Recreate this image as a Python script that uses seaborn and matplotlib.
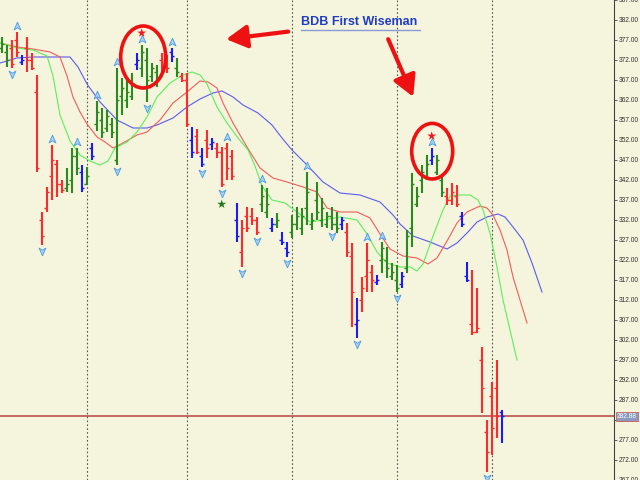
import numpy as np
import matplotlib
matplotlib.use('Agg')
import matplotlib.pyplot as plt
import matplotlib.transforms as mtransforms
from matplotlib.path import Path
from matplotlib.patches import Ellipse
import seaborn as sns

# ---- price bars (one per period) ----
highs = [377.75, 375.75, 377.0, 379.0, 373.25, 377.75, 373.75, 368.25, 334.0, 340.25,
         350.75, 347.0, 342.0, 345.0, 350.0, 350.0, 345.75, 345.25, 351.25, 361.75,
         360.0, 359.5, 357.5, 370.0, 367.5, 367.0, 368.75, 373.75, 375.75, 375.0,
         371.25, 370.75, 373.75, 373.25, 375.0, 372.5, 368.75, 368.75, 355.25, 354.75,
         350.0, 354.5, 352.5, 351.25, 350.25, 351.25, 349.5, 336.25, 332.0, 335.25,
         335.0, 332.75, 340.75, 340.0, 332.5, 333.75, 329.0, 326.5, 333.25, 335.25,
         335.0, 344.0, 333.75, 341.5, 337.5, 334.0, 335.25, 334.0, 332.75, 331.25,
         326.25, 312.5, 317.75, 326.25, 320.75, 318.25, 326.5, 325.25, 321.25, 320.75,
         319.0, 329.5, 343.75, 340.25, 345.75, 348.25, 350.0, 348.25, 343.25, 340.0,
         341.25, 340.75, 334.0, 321.5, 319.5, 315.0, 300.25, 282.0, 291.5, 297.0,
         284.5]
lows = [373.75, 370.25, 370.0, 372.75, 370.75, 369.0, 369.5, 344.0, 325.75, 334.0,
        337.0, 337.75, 338.75, 339.0, 338.75, 343.25, 339.0, 340.75, 347.0, 354.25,
        352.5, 354.0, 352.5, 345.75, 358.25, 360.0, 362.0, 369.5, 367.75, 361.5,
        366.5, 365.25, 369.0, 368.75, 371.5, 367.75, 366.5, 355.25, 347.5, 348.5,
        345.25, 347.5, 349.5, 347.5, 340.25, 342.0, 342.0, 326.5, 320.25, 329.0,
        330.75, 328.25, 334.0, 332.5, 329.0, 330.0, 325.75, 322.75, 327.5, 329.5,
        328.25, 330.75, 329.5, 332.0, 330.25, 330.0, 329.5, 328.75, 329.5, 322.75,
        305.25, 302.5, 309.0, 314.0, 314.0, 315.75, 318.75, 317.5, 317.0, 314.0,
        315.0, 318.75, 325.25, 335.25, 338.75, 342.0, 345.75, 343.25, 337.75, 335.75,
        335.75, 335.25, 330.25, 316.5, 303.25, 303.75, 283.75, 269.0, 273.25, 277.5,
        276.25]
opens = [375, 374, 375, 377, 371.5, 375, 372, 364, 332, 335,
         343, 346, 341, 340, 342, 348, 344, 341, 350, 356,
         357, 355, 356, 347, 363, 362, 363, 371, 370, 372,
         368, 369, 372, 372, 374, 370, 368, 367, 352, 353,
         348, 352, 351, 350, 349, 350, 348, 332, 324, 333,
         333, 332, 336, 334, 330, 331, 327, 325, 329, 331,
         330, 335, 331, 337, 332, 331, 333, 331, 331, 329,
         323, 306, 312, 318, 319, 316.5, 322, 322, 318, 317,
         316, 320, 330, 336, 342, 343, 347, 344, 342, 338,
         337, 338, 333, 318, 306, 304, 297, 279, 288, 290,
         284]
closes = [376, 372, 371, 374, 372, 372, 370, 345, 328, 339,
          347, 341, 339.5, 341, 348, 345, 340, 343, 348, 359,
          354, 358, 354, 362, 365, 364, 366, 372, 374, 367,
          370, 367, 370, 370, 373, 369, 367, 356, 349, 349,
          346, 350, 351.5, 349, 341, 345, 343, 328, 330, 330,
          332, 329, 338, 336, 331, 332, 326.5, 324, 331, 333,
          333, 339, 332, 334, 335, 333, 331, 330, 332, 324,
          314, 307, 315, 322, 317, 317, 325, 320, 319, 315,
          318, 328, 341, 338, 344, 346, 348, 347, 339, 337,
          339, 336, 331, 317, 304, 305, 290, 274, 280, 283,
          282.88]
bar_kind = list("ggrrbrrrrr" "rrrgggbgbg" "gggggggbgg" "ggrrbgrrbr" "brbrrrrbrr"
                "rrggbgbbgg" "ggggggggbr" "rbrrrbgggg" "bgggggbggr" "rrbbrrrrrr" "b")

# ---- fractals and signal stars (bar numbers) ----
fractal_up = [3, 10, 15, 19, 23, 28, 34, 45, 52, 61, 73, 76, 86]
fractal_down = [2, 8, 23, 29, 40, 44, 48, 51, 57, 66, 71, 79, 97]
red_star_bars = [28, 86]
green_star_bars = [44]

# ---- alligator lines (bar position, price) ----
jaw_x = [-0.34, 3.06, 6.26, 13.66, 15.26, 17.06, 19.66, 23.06, 26.26, 29.06, 31.06, 34.26,
         37.06, 39.66, 42.26, 44.06, 46.26, 48.26, 51.26, 54.06, 56.06, 58.06, 61.06, 64.26,
         67.66, 71.66, 75.66, 78.26, 79.66, 82.26, 85.66, 89.06, 91.06, 93.26, 95.06, 97.06,
         99.26, 100.66, 102.26, 104.26, 106.06, 108.06]
jaw_y = [371.25, 372.5, 372.75, 372.75, 370.25, 366.0, 361.5, 357.0, 355.0, 355.0, 355.75, 357.5,
         360.25, 362.25, 363.75, 364.25, 362.75, 360.75, 358.75, 355.75, 352.5, 349.5, 345.75, 341.5,
         338.75, 338.25, 336.5, 333.25, 331.0, 328.0, 326.5, 324.75, 326.25, 329.0, 331.5, 332.75,
         333.5, 332.75, 330.25, 327.0, 321.25, 314.0]
teeth_x = [-0.34, 3.06, 6.26, 9.66, 11.66, 13.06, 14.26, 15.66, 17.06, 19.06, 20.66, 22.26,
           24.26, 27.06, 29.06, 31.66, 34.26, 37.06, 39.66, 41.26, 43.06, 44.26, 46.26, 49.06,
           51.66, 54.26, 57.06, 60.26, 63.06, 65.06, 67.66, 71.06, 73.66, 75.66, 77.66, 80.26,
           83.06, 85.26, 87.06, 89.06, 91.06, 93.06, 95.66, 97.06, 98.26, 99.66, 101.06, 102.26,
           103.66, 105.06]
teeth_y = [376.25, 375.25, 374.75, 374.0, 372.75, 368.0, 362.75, 359.0, 356.0, 352.75, 351.5, 350.0,
           351.25, 353.25, 354.0, 357.0, 361.25, 364.0, 366.75, 366.5, 365.0, 361.25, 356.25, 350.25,
           345.0, 342.5, 341.5, 340.25, 339.0, 335.0, 334.0, 334.0, 332.5, 328.5, 324.75, 323.0,
           322.5, 321.0, 322.5, 326.75, 331.25, 334.0, 335.5, 335.0, 333.25, 329.5, 324.5, 317.75,
           312.0, 306.25]
lips_x = [-0.34, 3.06, 6.26, 9.06, 10.26, 11.66, 13.66, 15.66, 17.66, 19.66, 21.26, 22.66,
          25.06, 27.06, 29.06, 31.06, 33.66, 36.26, 38.06, 39.66, 41.06, 43.06, 45.06, 47.26,
          49.26, 50.66, 52.06, 54.06, 56.66, 59.06, 61.66, 64.26, 67.66, 71.06, 73.06, 75.06,
          77.06, 79.66, 81.66, 83.06, 84.26, 86.26, 88.26, 89.66, 91.66, 93.66, 95.26, 96.26,
          97.66, 99.06, 100.26, 101.66, 103.06]
lips_y = [376.25, 375.0, 374.5, 373.0, 368.0, 358.25, 351.75, 348.25, 346.75, 345.75, 346.75, 350.0,
          351.5, 354.0, 357.75, 362.75, 366.25, 368.25, 369.0, 368.25, 366.0, 360.25, 356.25, 352.5,
          349.5, 345.5, 340.5, 337.0, 336.25, 334.0, 331.5, 332.0, 332.75, 332.0, 328.5, 324.0,
          321.25, 320.25, 320.25, 319.25, 321.0, 328.0, 334.5, 338.0, 338.25, 338.25, 337.0, 334.5,
          328.75, 320.25, 312.0, 304.5, 297.0]

session_breaks = [17, 37, 58, 79, 98]
last_price = 282.88
price_ticks = np.arange(267, 388, 5)

BG = '#f5f4dc'
kind_color = {'g': '#2a8a1e', 'r': '#ff2a2a', 'b': '#1a1aff'}
TICK_FONT = ['Liberation Sans', 'DejaVu Sans']

fig = plt.figure(figsize=(6.4, 4.8), dpi=100, facecolor=BG)
ax = fig.add_axes([0, 0, 614 / 640, 1])
ax.set_facecolor(BG)

# session separators
for b in session_breaks:
    ax.axvline(b, color='#555555', lw=0.8, ls=(0, (1.5, 2)), zorder=1)

# alligator
sns.lineplot(x=jaw_x, y=jaw_y, color='#5c5cf2', lw=0.8, sort=False, ax=ax, zorder=2)
sns.lineplot(x=teeth_x, y=teeth_y, color='#f25c5c', lw=0.8, sort=False, ax=ax, zorder=2)
sns.lineplot(x=lips_x, y=lips_y, color='#5cee5c', lw=0.8, sort=False, ax=ax, zorder=2)

# OHLC bars
xs = np.arange(len(highs))
cols = [kind_color[k] for k in bar_kind]
ax.vlines(xs, lows, highs, colors=cols, lw=1.5, zorder=3)
ax.hlines(opens, xs - 0.45, xs, colors=cols, lw=1.0, zorder=3)
ax.hlines(closes, xs, xs + 0.45, colors=cols, lw=1.0, zorder=3)

# fractal arrows
up_path = Path([(0, 1), (0.8, -0.8), (0, -0.3), (-0.8, -0.8), (0, 1)],
               [Path.MOVETO, Path.LINETO, Path.LINETO, Path.LINETO, Path.CLOSEPOLY])
down_path = Path([(0, -1), (0.8, 0.8), (0, 0.3), (-0.8, 0.8), (0, -1)],
                 [Path.MOVETO, Path.LINETO, Path.LINETO, Path.LINETO, Path.CLOSEPOLY])
ax.scatter(fractal_up, [highs[i] + 1.4 for i in fractal_up], marker=up_path, s=38,
           facecolor='#a9d3f7', edgecolor='#4a9ae2', lw=0.6, zorder=4)
ax.scatter(fractal_down, [lows[i] - 1.4 for i in fractal_down], marker=down_path, s=38,
           facecolor='#a9d3f7', edgecolor='#4a9ae2', lw=0.6, zorder=4)

# wiseman stars
sns.scatterplot(x=red_star_bars, y=[highs[i] + 3.0 for i in red_star_bars], marker='*',
                s=45, color='#f01818', edgecolor='none', ax=ax, zorder=5)
sns.scatterplot(x=green_star_bars, y=[lows[i] - 4.3 for i in green_star_bars], marker='*',
                s=45, color='#1d7a1d', edgecolor='none', ax=ax, zorder=5)

# last price line + label
ax.axhline(last_price, color='#b85050', lw=1.2, zorder=2)
trans = mtransforms.blended_transform_factory(ax.transAxes, ax.transData)
ax.text(1.005, last_price, f'{last_price:.2f}', transform=trans, fontsize=4.8,
        family=TICK_FONT, color='white', va='center', ha='left', clip_on=False,
        bbox=dict(boxstyle='square,pad=0.2', facecolor='#8a9bbf', edgecolor='#d06060', lw=0.6),
        zorder=6)

# highlight circles
ax.add_patch(Ellipse((28.3, 372.75), 9.0, 15.5, fill=False, ec='#ee1111', lw=2.6, zorder=6))
ax.add_patch(Ellipse((86.1, 349.2), 8.2, 13.9, fill=False, ec='#ee1111', lw=2.6, zorder=6))

# title text and pointers
ax.text(59.9, 381.6, 'BDB First Wiseman', fontsize=9, fontweight='bold',
        family=['Liberation Sans', 'DejaVu Sans'], color='#1e3cc8', ha='left', va='center', zorder=7)
ax.plot([59.9, 83.7], [379.5, 379.5], color='#8a9ad8', lw=1.0, zorder=7)
arrow_kw = dict(arrowstyle='-|>,head_length=0.9,head_width=0.5', mutation_scale=14,
                color='#ee1111', lw=3, shrinkA=0, shrinkB=0)
ax.annotate('', xy=(44.9, 377.2), xytext=(57.3, 379.1), arrowprops=arrow_kw, zorder=7)
ax.annotate('', xy=(82.3, 362.8), xytext=(77.3, 377.2), arrowprops=arrow_kw, zorder=7)

# axes
ax.set_xlim(-0.34, 122.46)
ax.set_ylim(267, 387)
ax.set_xticks([])
ax.yaxis.tick_right()
ax.set_yticks(price_ticks)
ax.set_yticklabels([f'{v:.2f}' for v in price_ticks], family=TICK_FONT)
ax.tick_params(axis='y', direction='out', length=2.5, width=0.6, pad=0.8,
               labelsize=4.8, labelcolor='#333333', color='#444444')
for s in ['top', 'left', 'bottom']:
    ax.spines[s].set_visible(False)
ax.spines['right'].set_color('#444444')
ax.spines['right'].set_linewidth(0.8)
ax.set_xlabel('')
ax.set_ylabel('')

fig.savefig('out.png', dpi=100, facecolor=BG)
